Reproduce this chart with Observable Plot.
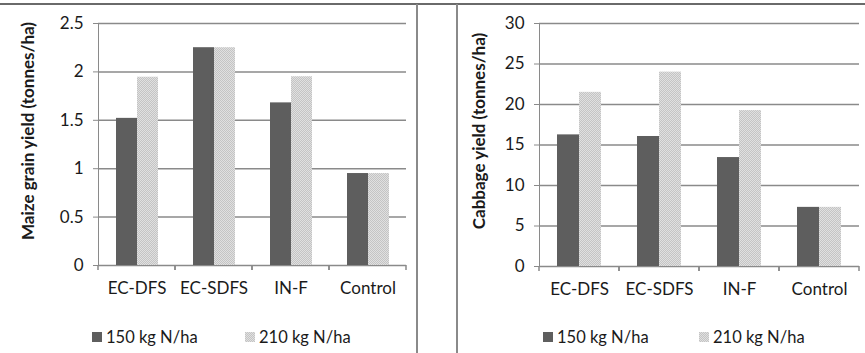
<!DOCTYPE html>
<html><head><meta charset="utf-8">
<script src="https://cdn.jsdelivr.net/npm/d3@7"></script>
<script src="https://cdn.jsdelivr.net/npm/@observablehq/plot@0.6"></script>
<style>
body{margin:0;background:#fff;font-family:Lato,sans-serif;}
#wrap{position:relative;width:865px;height:353px;overflow:hidden;background:#fff;}
.panel{position:absolute;top:0;}
.panel svg text{fill:#1a1a1a;}
.ytitle{position:absolute;font:bold 17px Lato,sans-serif;color:#1a1a1a;white-space:nowrap;transform:translate(-50%,-50%) rotate(-90deg);}
.leg{position:absolute;top:327px;height:20px;font:16.5px Lato,sans-serif;color:#1a1a1a;display:flex;align-items:center;white-space:nowrap;}
.leg svg{margin-right:4px;}
.hline{position:absolute;left:0;top:3px;width:865px;height:2px;background:#6a6a6a;}
.vline{position:absolute;top:4px;width:1.5px;height:349px;background:#8a8a8a;}
</style></head><body>
<svg width="0" height="0" style="position:absolute"><defs><pattern id="dots" width="2" height="2" patternUnits="userSpaceOnUse"><rect width="2" height="2" fill="#e0e0e0"/><rect width="1" height="1" fill="#c4c4c4"/><rect x="1" y="1" width="1" height="1" fill="#c4c4c4"/></pattern></defs></svg>
<div id="wrap">
  <div class="hline"></div>
  <div class="vline" style="left:416px"></div>
  <div class="vline" style="left:456px"></div>
  <div id="left" class="panel" style="left:0"></div>
  <div id="right" class="panel" style="left:430px"></div>
  <div class="ytitle" style="left:27px;top:131px">Maize grain yield (tonnes/ha)</div>
  <div class="ytitle" style="left:478px;top:131px">Cabbage yield (tonnes/ha)</div>
  <div id="legends"></div>
</div>
<script>
const categories = ["EC-DFS", "EC-SDFS", "IN-F", "Control"];
const seriesNames = ["150 kg N/ha", "210 kg N/ha"];
const maize150 = [1.52, 2.25, 1.68, 0.95];
const maize210 = [1.945, 2.25, 1.95, 0.95];
const cabbage150 = [16.25, 16.05, 13.45, 7.3];
const cabbage210 = [21.5, 24.0, 19.25, 7.3];
const maizeTicks = [0, 0.5, 1, 1.5, 2, 2.5];
const cabbageTicks = [0, 5, 10, 15, 20, 25, 30];

const DARK = "#5e5e5e";
const LIGHT = "url(#dots)";
const GRID = "#8a8a8a";

function chart(v150, v210, ticks, o) {
  const data = categories.flatMap((c, i) => [
    {cat: c, series: seriesNames[0], value: v150[i]},
    {cat: c, series: seriesNames[1], value: v210[i]}
  ]);
  const boundaryTicks = (index, scales, values, dims) => {
    const g = d3.create("svg:g").attr("stroke", GRID).attr("stroke-width", 1.5);
    const yb = dims.height - dims.marginBottom;
    for (const x of [dims.marginLeft, dims.width - dims.marginRight]) {
      g.append("line").attr("x1", x).attr("x2", x).attr("y1", yb).attr("y2", yb + 5);
    }
    return g.node();
  };
  return Plot.plot({
    width: o.width, height: 300,
    marginLeft: o.ml, marginRight: o.mr, marginTop: 23, marginBottom: o.mb,
    style: {fontFamily: "Lato, sans-serif", fontSize: "17px", color: GRID, background: "transparent", overflow: "visible"},
    fx: {domain: categories, padding: 0, label: null, tickSize: 0, tickPadding: 16, axis: "bottom"},
    x: {domain: seriesNames, axis: null, paddingInner: 0, paddingOuter: o.po},
    y: {domain: [ticks[0], ticks[ticks.length - 1]], ticks: ticks, tickFormat: "~g", tickSize: 5, tickPadding: 10, line: true, label: null},
    color: {domain: seriesNames, range: [DARK, LIGHT]},
    marks: [
      Plot.ruleY(ticks, {stroke: GRID, strokeWidth: 1.5}),
      Plot.barY(data, {fx: "cat", x: "series", y: "value", fill: "series"}),
      boundaryTicks
    ]
  });
}

document.getElementById("left").append(chart(maize150, maize210, maizeTicks, {width: 417, ml: 97, mr: 10, mb: 35, po: 0.76}));
document.getElementById("right").append(chart(cabbage150, cabbage210, cabbageTicks, {width: 435, ml: 108, mr: 5, mb: 34, po: 0.79}));

const legendPos = [[92, 245], [543, 699]];
const legHost = document.getElementById("legends");
for (const [a, b] of legendPos) {
  [[a, DARK, seriesNames[0]], [b, LIGHT, seriesNames[1]]].forEach(([x, fill, name]) => {
    const d = document.createElement("div");
    d.className = "leg";
    d.style.left = x + "px";
    d.innerHTML = `<svg width="10" height="10"><rect width="10" height="10" fill="${fill}"/></svg><span>${name}</span>`;
    legHost.append(d);
  });
}
</script>
</body></html>
